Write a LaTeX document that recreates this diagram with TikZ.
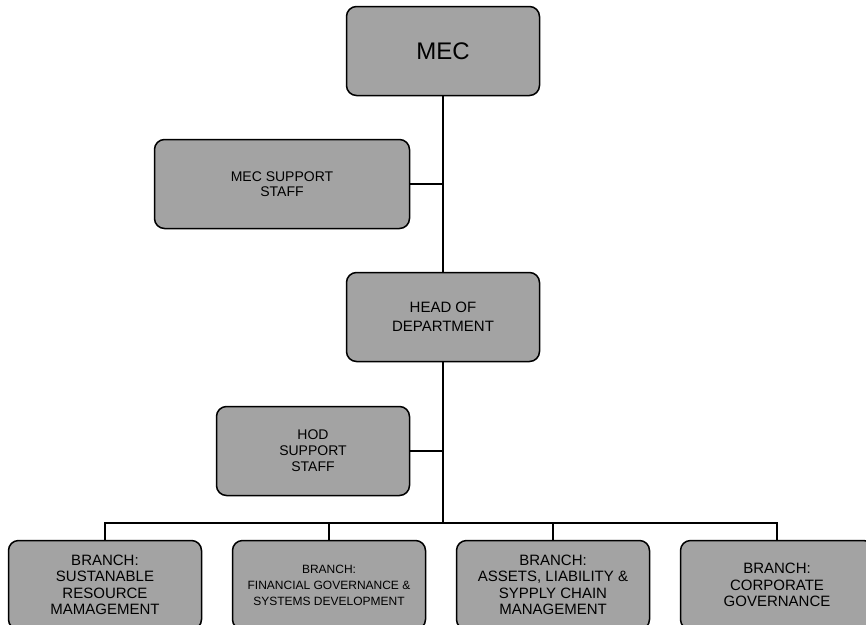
\documentclass[tikz,border=0pt]{standalone}
\usepackage{fontspec}
\setmainfont{Liberation Sans}
\usetikzlibrary{positioning}

\begin{document}
\begin{tikzpicture}[x=1pt,y=-1pt,node distance=224pt,org node/.style={rectangle,rounded corners=10pt,draw,line width=1.5pt,fill=black!36,align=center,inner sep=2pt,minimum width=193pt,minimum height=89pt,font=\fontsize{15}{16.5}\selectfont},link/.style={line width=1.6pt}]

  \useasboundingbox (0,0) rectangle (866,624);

  \node[org node,font=\fontsize{24}{26}\selectfont] (mec) at (443,51) {MEC};
  \node[org node,minimum width=255pt,font=\fontsize{14}{15.5}\selectfont] (mecsup) at (282,184) {MEC SUPPORT\\STAFF};
  \node[org node,font=\fontsize{15}{18.5}\selectfont] (hod) at (443,317) {HEAD OF\\DEPARTMENT};
  \node[org node,font=\fontsize{14}{16}\selectfont] (hodsup) at (313,451) {HOD\\SUPPORT\\STAFF};
  \node[org node] (b1) at (105,585) {BRANCH:\\SUSTANABLE\\RESOURCE\\MAMAGEMENT};
  \node[org node,font=\fontsize{12}{16}\selectfont] (b2) [right of=b1] {BRANCH:\\FINANCIAL GOVERNANCE \&\\SYSTEMS DEVELOPMENT};
  \node[org node] (b3) [right of=b2] {BRANCH:\\ASSETS, LIABILITY \&\\SYPPLY CHAIN\\MANAGEMENT};
  \node[org node] (b4) [right of=b3] {BRANCH:\\CORPORATE\\GOVERNANCE};
  \coordinate (bus) at (443,523);

  \draw[line width=2.5pt] (mec) -- (hod);
  \draw[line width=2.5pt] (hod) -- (bus);
  \draw[link] (mecsup.east) -- (mecsup.east -| mec.south);
  \draw[link] (hodsup.east) -- (hodsup.east -| hod.south);
  \draw[link,line width=2pt]
    (b1.north) |- (bus)
    (b2.north) |- (bus)
    (b3.north) |- (bus)
    (b4.north) |- (bus);
\end{tikzpicture}
\end{document}
